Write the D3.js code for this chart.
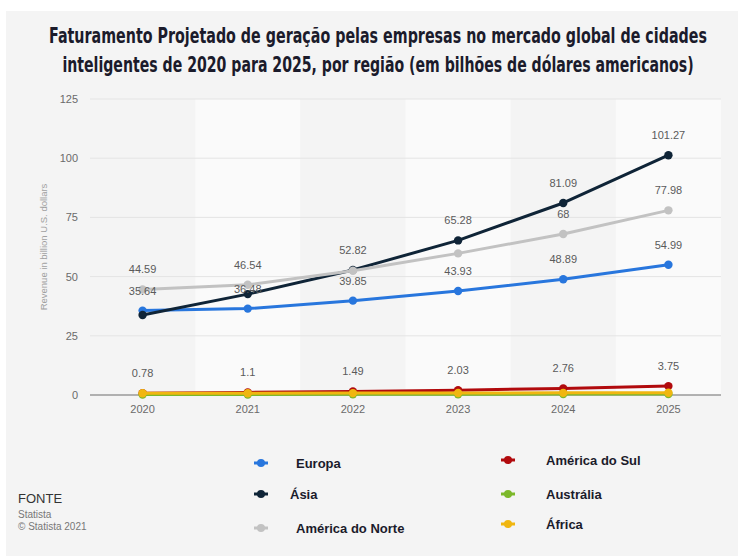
<!DOCTYPE html>
<html>
<head>
<meta charset="utf-8">
<script src="https://cdn.jsdelivr.net/npm/d3@7"></script>
<style>
body { margin: 0; background: #fff; }
svg { display: block; }
</style>
</head>
<body>
<div id="chart"></div>
<script>
var years = ["2020", "2021", "2022", "2023", "2024", "2025"];
var europa = [35.64, 36.48, 39.85, 43.93, 48.89, 54.99];
var asia = [33.8, 42.6, 52.82, 65.28, 81.09, 101.27];
var americaNorte = [44.59, 46.54, 52.5, 59.8, 68, 77.98];
var americaSul = [0.78, 1.1, 1.49, 2.03, 2.76, 3.75];
var australia = [0.2, 0.24, 0.28, 0.32, 0.37, 0.42];
var africa = [0.72, 0.76, 0.8, 0.85, 0.9, 0.98];
var yTicks = [0, 25, 50, 75, 100, 125];

// labels Statista actually shows (the rest are hidden by overlap)
var europaLabels = ["35.64", "36.48", "39.85", "43.93", "48.89", "54.99"];
var asiaLabels = [null, null, "52.82", "65.28", "81.09", "101.27"];
var americaNorteLabels = ["44.59", "46.54", null, null, "68", "77.98"];
var americaSulLabels = ["0.78", "1.1", "1.49", "2.03", "2.76", "3.75"];

var series = [
    {name: "Europa", values: europa, labels: europaLabels, color: "#2876dd"},
    {name: "Ásia", values: asia, labels: asiaLabels, color: "#0f2437"},
    {name: "América do Norte", values: americaNorte, labels: americaNorteLabels, color: "#c2c2c2"},
    {name: "América do Sul", values: americaSul, labels: americaSulLabels, color: "#b10a0d"},
    {name: "Austrália", values: australia, labels: null, color: "#7cb82a"},
    {name: "África", values: africa, labels: null, color: "#f0b610"}
];

var W = 738, H = 556;
var plot = {left: 90, right: 721, top: 99, bottom: 395};

var svg = d3.select("#chart").append("svg").attr("width", W).attr("height", H);

// panel background
svg.append("rect").attr("x", 6).attr("y", 11).attr("width", W - 6).attr("height", H - 11).attr("fill", "#f4f4f4");

var x = d3.scaleBand().domain(years).range([plot.left, plot.right]);
var y = d3.scaleLinear().domain([0, 125]).range([plot.bottom, plot.top]);
var cx = function(d, i) { return x(years[i]) + x.bandwidth() / 2; };

// alternating column bands
svg.selectAll(".band").data(years.filter(function(d, i) { return i % 2 == 1; })).enter().append("rect")
    .attr("x", d => x(d)).attr("y", plot.top).attr("width", x.bandwidth()).attr("height", plot.bottom - plot.top)
    .attr("fill", "#fafafa");

// grid
svg.selectAll(".grid").data(yTicks.filter(d => d > 0)).enter().append("line")
    .attr("x1", plot.left).attr("x2", plot.right).attr("y1", d => y(d)).attr("y2", d => y(d))
    .attr("stroke", "#e4e4e4").attr("stroke-width", 1);

svg.append("line").attr("x1", plot.left).attr("x2", plot.right).attr("y1", y(0)).attr("y2", y(0))
    .attr("stroke", "#9a9a9a").attr("stroke-width", 1.5);

// y axis
var yAxis = svg.append("g").attr("transform", "translate(78,0)")
    .call(d3.axisLeft(y).tickValues(yTicks).tickSize(0).tickPadding(0));
yAxis.select(".domain").remove();
yAxis.selectAll("text").attr("fill", "#6a6a6a").style("font-family", "Liberation Sans, Arial, sans-serif").style("font-size", "11px");

// x axis
var xAxis = svg.append("g").attr("transform", "translate(0," + (plot.bottom + 10) + ")")
    .call(d3.axisBottom(x).tickSize(0).tickPadding(0));
xAxis.select(".domain").remove();
xAxis.selectAll("text").attr("fill", "#6a6a6a").style("font-family", "Liberation Sans, Arial, sans-serif").style("font-size", "11px");

svg.append("text").attr("transform", "translate(47," + y(62.5) + ") rotate(-90)")
    .attr("text-anchor", "middle").attr("fill", "#a0a0a0")
    .style("font-family", "Liberation Sans, Arial, sans-serif").style("font-size", "9.5px")
    .text("Revenue in billion U.S. dollars");

// lines
var line = d3.line().x(cx).y(d => y(d));
series.forEach(function(s) {
    var g = svg.append("g");
    g.append("path").attr("d", line(s.values)).attr("fill", "none")
        .attr("stroke", s.color).attr("stroke-width", 3).attr("stroke-linejoin", "round");
    g.selectAll("circle").data(s.values).enter().append("circle")
        .attr("cx", cx).attr("cy", d => y(d)).attr("r", 4.2).attr("fill", s.color);
});

// value labels
series.forEach(function(s) {
    if (!s.labels) return;
    svg.append("g").selectAll("text").data(s.values).enter().append("text")
        .filter(function(d, i) { return s.labels[i] != null; })
        .attr("x", function(d) { var i = s.values.indexOf(d); return cx(d, i); })
        .attr("y", d => y(d) - 16)
        .attr("text-anchor", "middle").attr("fill", "#5a5a5a")
        .style("font-family", "Liberation Sans, Arial, sans-serif").style("font-size", "11px")
        .text(function(d) { return s.labels[s.values.indexOf(d)]; });
});

// title - condensed bold, squeezed to the reference width
var titleLines = [
    "Faturamento Projetado de geração pelas empresas no mercado global de cidades",
    "inteligentes de 2020 para 2025, por região (em bilhões de dólares americanos)"
];
var titleWidths = [658, 632];
svg.selectAll(".title").data(titleLines).enter().append("text")
    .attr("class", "title")
    .attr("text-anchor", "middle").attr("fill", "#1b1b2b")
    .style("font-family", "DejaVu Sans Condensed, DejaVu Sans, sans-serif").style("font-weight", "bold").style("font-size", "21px")
    .text(d => d)
    .attr("transform", function(d, i) {
        var len = this.getComputedTextLength();
        var k = Math.min(1, titleWidths[i] / len);
        return "translate(378," + (43 + i * 29) + ") scale(" + k + ",1)";
    });

// legend
var legendPos = [
    {mx: 261, tx: 296, y: 463}, {mx: 261, tx: 290, y: 494}, {mx: 261, tx: 296, y: 528},
    {mx: 508, tx: 546, y: 460}, {mx: 508, tx: 546, y: 494}, {mx: 508, tx: 546, y: 524}
];
series.forEach(function(s, i) {
    var p = legendPos[i];
    var g = svg.append("g");
    g.append("line").attr("x1", p.mx - 7).attr("x2", p.mx + 7).attr("y1", p.y).attr("y2", p.y)
        .attr("stroke", s.color).attr("stroke-width", 3);
    g.append("circle").attr("cx", p.mx).attr("cy", p.y).attr("r", 4).attr("fill", s.color);
    g.append("text").attr("x", p.tx).attr("y", p.y + 4.5).attr("fill", "#1b1b2b")
        .style("font-family", "Liberation Sans Narrow, Liberation Sans, sans-serif").style("font-weight", "bold").style("font-size", "13px")
        .text(s.name);
});

// source
svg.append("text").attr("x", 18).attr("y", 503).attr("fill", "#333")
    .style("font-family", "Liberation Sans Narrow, Liberation Sans, sans-serif").style("font-size", "13px").text("FONTE");
svg.append("text").attr("x", 18).attr("y", 518).attr("fill", "#777")
    .style("font-family", "Liberation Sans Narrow, Liberation Sans, sans-serif").style("font-size", "10px").text("Statista");
svg.append("text").attr("x", 18).attr("y", 530).attr("fill", "#777")
    .style("font-family", "Liberation Sans Narrow, Liberation Sans, sans-serif").style("font-size", "10px").text("© Statista  2021");
</script>
</body>
</html>
